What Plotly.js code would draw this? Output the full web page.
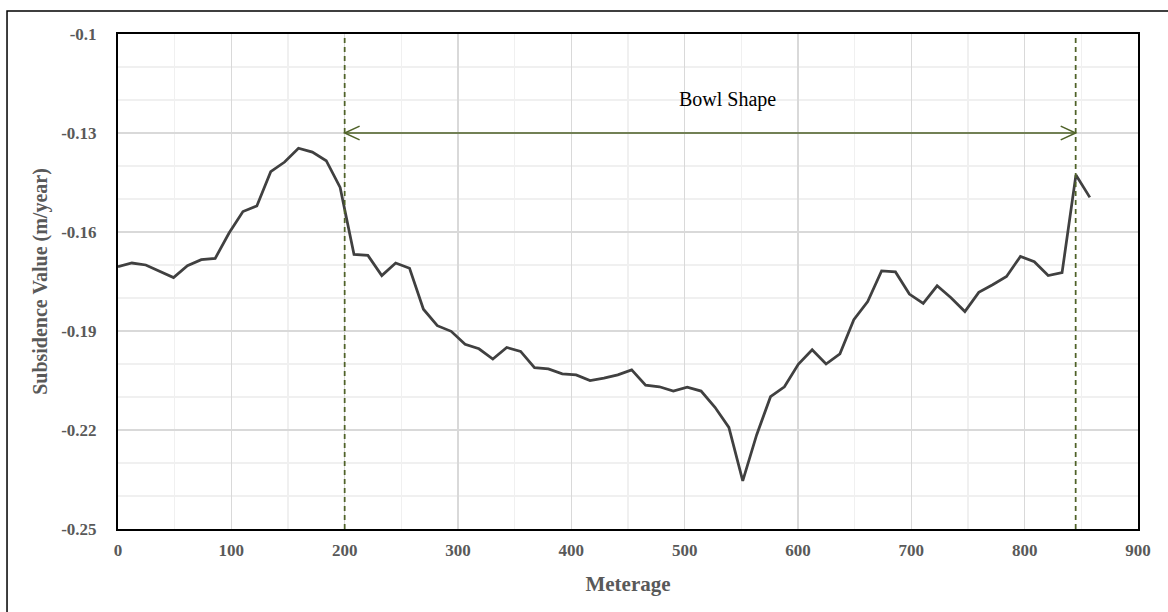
<!DOCTYPE html>
<html>
<head>
<meta charset="utf-8">
<script src="https://cdn.plot.ly/plotly-3.0.1.min.js"></script>
<style>html,body{margin:0;padding:0;background:#fff;}#chart{width:1168px;height:612px;}</style>
</head>
<body>
<div id="chart"></div>
<script>
// Meterage (m)
const meterage = [0, 12.25, 24.5, 36.75, 49, 61.25, 73.5, 85.75, 98, 110.25,
  122.5, 134.75, 147, 159.25, 171.5, 183.75, 196, 208.25, 220.5, 232.75,
  245, 257.25, 269.5, 281.75, 294, 306.25, 318.5, 330.75, 343, 355.25,
  367.5, 379.75, 392, 404.25, 416.5, 428.75, 441, 453.25, 465.5, 477.75,
  490, 502.25, 514.5, 526.75, 539, 551.25, 563.5, 575.75, 588, 600.25,
  612.5, 624.75, 637, 649.25, 661.5, 673.75, 686, 698.25, 710.5, 722.75,
  735, 747.25, 759.5, 771.75, 784, 796.25, 808.5, 820.75, 833, 845.25, 857.5];
// Subsidence value (m/year)
const subsidence = [-0.1705, -0.1694, -0.1700, -0.1720, -0.1738, -0.1702, -0.1684, -0.1680, -0.1603, -0.1538,
  -0.1521, -0.1417, -0.1388, -0.1346, -0.1358, -0.1384, -0.1465, -0.1668, -0.1671, -0.1732,
  -0.1694, -0.1710, -0.1834, -0.1884, -0.1901, -0.1940, -0.1954, -0.1985, -0.1950, -0.1962,
  -0.2011, -0.2015, -0.2030, -0.2033, -0.2050, -0.2043, -0.2033, -0.2018, -0.2064, -0.2069,
  -0.2082, -0.2070, -0.2082, -0.2131, -0.2192, -0.2354, -0.2215, -0.2099, -0.2069, -0.2001,
  -0.1957, -0.2000, -0.1969, -0.1866, -0.1811, -0.1718, -0.1721, -0.1788, -0.1816, -0.1763,
  -0.1799, -0.1841, -0.1783, -0.1760, -0.1735, -0.1674, -0.1690, -0.1732, -0.1723, -0.1427, -0.1495];

const xTickVals = [0, 100, 200, 300, 400, 500, 600, 700, 800, 900];
const xTickText = ['0', '100', '200', '300', '400', '500', '600', '700', '800', '900'];
const yTickVals = [-0.25, -0.22, -0.19, -0.16, -0.13, -0.1];
const yTickText = ['-0.25', '-0.22', '-0.19', '-0.16', '-0.13', '-0.1'];

// Bowl shape annotation
const bowlStart = 200;
const bowlEnd = 845;
const bowlArrowY = -0.13;
const bowlLabel = 'Bowl Shape';

const olive = '#4f6228';
const serif = '"Liberation Serif", "Times New Roman", serif';

// arrowhead size in data units
const ahLen = 13.2, ahHalf = 0.0021;

const shapes = [
  {type: 'line', xref: 'x', yref: 'y', x0: bowlStart, x1: bowlStart, y0: -0.25, y1: -0.1,
   line: {color: olive, width: 1.75, dash: '5px,4px'}},
  {type: 'line', xref: 'x', yref: 'y', x0: bowlEnd, x1: bowlEnd, y0: -0.25, y1: -0.1,
   line: {color: olive, width: 1.75, dash: '5px,4px'}},
  {type: 'line', xref: 'x', yref: 'y', x0: bowlStart, x1: bowlEnd, y0: bowlArrowY, y1: bowlArrowY,
   line: {color: olive, width: 1.5}},
  {type: 'path', xref: 'x', yref: 'y',
   path: `M${bowlStart + ahLen},${bowlArrowY + ahHalf} L${bowlStart},${bowlArrowY} L${bowlStart + ahLen},${bowlArrowY - ahHalf}`,
   line: {color: olive, width: 1.5}},
  {type: 'path', xref: 'x', yref: 'y',
   path: `M${bowlEnd - ahLen},${bowlArrowY + ahHalf} L${bowlEnd},${bowlArrowY} L${bowlEnd - ahLen},${bowlArrowY - ahHalf}`,
   line: {color: olive, width: 1.5}},
  // outer frame
  {type: 'rect', xref: 'paper', yref: 'paper', x0: -0.1088, x1: 1.2, y0: -0.3, y1: 1.0465,
   line: {color: '#000', width: 1.5}, fillcolor: 'rgba(0,0,0,0)', layer: 'above'}
];

const data = [{
  type: 'scatter', mode: 'lines', x: meterage, y: subsidence,
  line: {color: '#404040', width: 2.75}, hoverinfo: 'x+y', showlegend: false
}];

const layout = {
  width: 1168, height: 612,
  margin: {l: 118, r: 30, t: 34, b: 83},
  paper_bgcolor: '#fff', plot_bgcolor: '#fff',
  font: {family: serif, color: '#595959'},
  showlegend: false,
  xaxis: {
    range: [0, 900], tickvals: xTickVals, ticktext: xTickText,
    showgrid: true, gridcolor: '#d9d9d9', gridwidth: 1.5,
    minor: {dtick: 50, tick0: 0, showgrid: true, gridcolor: '#f0f0f0', gridwidth: 1.5, ticks: ''},
    zeroline: false, showline: true, linecolor: '#000', linewidth: 2, mirror: true,
    ticks: '', ticklen: 0, ticklabelstandoff: 5,
    tickfont: {family: serif, size: 17, color: '#595959', weight: 'bold'},
    title: {text: '<b>Meterage</b>', font: {family: serif, size: 21, color: '#595959'}, standoff: 17}
  },
  yaxis: {
    range: [-0.25, -0.1], tickvals: yTickVals, ticktext: yTickText,
    showgrid: true, gridcolor: '#d9d9d9', gridwidth: 1.5,
    minor: {dtick: 0.01, tick0: -0.25, showgrid: true, gridcolor: '#f0f0f0', gridwidth: 1.5, ticks: ''},
    zeroline: false, showline: true, linecolor: '#000', linewidth: 2, mirror: true,
    ticks: '', ticklen: 0, ticklabelstandoff: 16,
    tickfont: {family: serif, size: 17, color: '#595959', weight: 'bold'},
    title: {text: '<b>Subsidence Value (m/year)</b>', font: {family: serif, size: 20, color: '#595959'}, standoff: 8}
  },
  shapes: shapes,
  annotations: [{
    x: (bowlStart + bowlEnd) / 2 + 15, y: bowlArrowY, xref: 'x', yref: 'y',
    text: bowlLabel, showarrow: false, yshift: 34,
    font: {family: serif, size: 20, color: '#000'}
  }]
};

Plotly.newPlot('chart', data, layout, {displayModeBar: false, staticPlot: true});
</script>
</body>
</html>
